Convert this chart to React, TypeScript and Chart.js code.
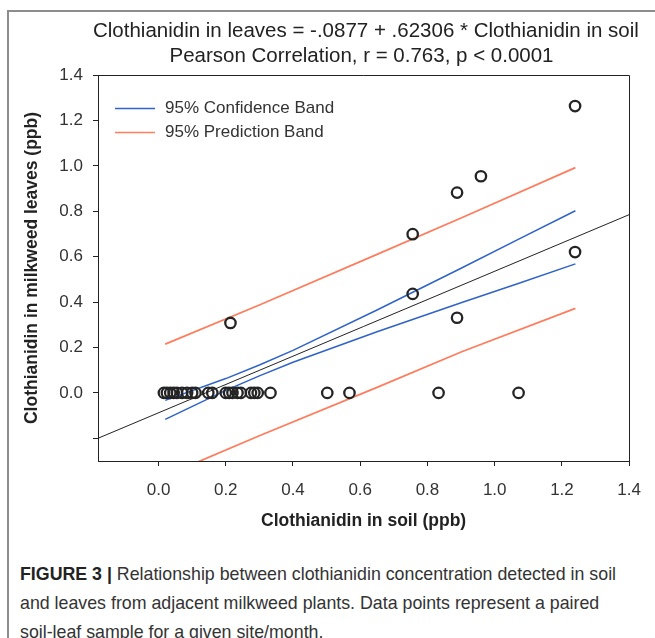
import React, { useEffect, useRef } from "react";
import { Chart, registerables } from "chart.js";

Chart.register(...registerables);

// ---- data ----
const soilPpb = [
  0.016, 0.025, 0.035, 0.045, 0.055, 0.07, 0.085, 0.1, 0.11, 0.148, 0.16,
  0.2, 0.21, 0.22, 0.235, 0.245, 0.275, 0.285, 0.295, 0.333,
  0.502, 0.568, 0.833, 1.071,
  0.214, 0.756, 0.756, 0.888, 0.888, 0.959, 1.239, 1.239,
];
const leafPpb = [
  0, 0, 0, 0, 0, 0, 0, 0, 0, 0, 0,
  0, 0, 0, 0, 0, 0, 0, 0, 0,
  0, 0, 0, 0,
  0.308, 0.699, 0.436, 0.882, 0.331, 0.954, 1.263, 0.62,
];

const regressionX = [-0.18, 1.4];
const regressionY = [-0.2, 0.785];

const confX = [0.02, 0.2, 0.3, 0.4, 0.65, 0.9, 1.07, 1.24];
const confUpper = [-0.033, 0.063, 0.123, 0.187, 0.365, 0.549, 0.676, 0.802];
const confLower = [-0.117, 0.011, 0.075, 0.135, 0.269, 0.397, 0.482, 0.568];

const predX = [0.02, 0.3, 0.65, 0.9, 1.24];
const predUpper = [0.215, 0.387, 0.61, 0.77, 0.992];
const predLower = [-0.365, -0.189, 0.024, 0.18, 0.372];

const xTicks = [0, 0.2, 0.4, 0.6, 0.8, 1.0, 1.2, 1.4];
const yTicks = [-0.2, 0, 0.2, 0.4, 0.6, 0.8, 1.0, 1.2, 1.4];

const legendLabels = ["95% Confidence Band", "95% Prediction Band"];
const titleLines = [
  "Clothianidin in leaves = -.0877 + .62306 * Clothianidin in soil",
  "Pearson Correlation, r = 0.763, p < 0.0001",
];
const xTitle = "Clothianidin in soil (ppb)";
const yTitle = "Clothianidin in milkweed leaves (ppb)";

const CONF_COLOR = "#2f63c8";
const PRED_COLOR = "#ff7d5e";
const INK = "#222222";
const FONT = '"Liberation Sans", Arial, Helvetica, sans-serif';

const pairs = (xs: number[], ys: number[]) => xs.map((x, i) => ({ x, y: ys[i] }));

const boxPlugin = {
  id: "boxFrame",
  afterDraw(chart: any) {
    const { ctx, chartArea } = chart;
    ctx.save();
    ctx.strokeStyle = INK;
    ctx.lineWidth = 1;
    ctx.beginPath();
    ctx.moveTo(Math.round(chartArea.left), Math.round(chartArea.top) + 0.5);
    ctx.lineTo(Math.round(chartArea.right) + 0.5, Math.round(chartArea.top) + 0.5);
    ctx.lineTo(Math.round(chartArea.right) + 0.5, Math.round(chartArea.bottom) + 0.5);
    ctx.stroke();
    ctx.restore();
  },
};

const legendPlugin = {
  id: "bandLegend",
  afterDraw(chart: any) {
    const { ctx, chartArea } = chart;
    const colors = [CONF_COLOR, PRED_COLOR];
    ctx.save();
    ctx.font = `17px ${FONT}`;
    ctx.textBaseline = "middle";
    ctx.textAlign = "left";
    legendLabels.forEach((label, i) => {
      const y = Math.round(chartArea.top + 33 + i * 23.5) + 0.5;
      ctx.strokeStyle = colors[i];
      ctx.lineWidth = 1.6;
      ctx.beginPath();
      ctx.moveTo(chartArea.left + 17, y);
      ctx.lineTo(chartArea.left + 57, y);
      ctx.stroke();
      ctx.fillStyle = "#333";
      ctx.fillText(label, chartArea.left + 67, y);
    });
    ctx.restore();
  },
};

export default function App() {
  const canvasRef = useRef<HTMLCanvasElement | null>(null);

  useEffect(() => {
    const canvas = canvasRef.current;
    if (!canvas) return;
    Chart.defaults.font.family = FONT;
    const chart = new Chart(canvas, {
      type: "scatter",
      data: {
        datasets: [
          {
            label: "samples",
            data: pairs(soilPpb, leafPpb),
            showLine: false,
            pointStyle: "circle",
            pointRadius: 5.2,
            pointBorderWidth: 2.3,
            pointBorderColor: "#242424",
            pointBackgroundColor: "rgba(0,0,0,0)",
            clip: false,
          } as any,
          {
            label: "regression",
            data: pairs(regressionX, regressionY),
            showLine: true,
            borderColor: INK,
            borderWidth: 1,
            pointRadius: 0,
          },
          {
            label: "conf upper",
            data: pairs(confX, confUpper),
            showLine: true,
            borderColor: CONF_COLOR,
            borderWidth: 1.5,
            pointRadius: 0,
          },
          {
            label: "conf lower",
            data: pairs(confX, confLower),
            showLine: true,
            borderColor: CONF_COLOR,
            borderWidth: 1.5,
            pointRadius: 0,
          },
          {
            label: "pred upper",
            data: pairs(predX, predUpper),
            showLine: true,
            borderColor: PRED_COLOR,
            borderWidth: 1.8,
            pointRadius: 0,
          },
          {
            label: "pred lower",
            data: pairs(predX, predLower),
            showLine: true,
            borderColor: PRED_COLOR,
            borderWidth: 1.8,
            pointRadius: 0,
            clip: 0,
          } as any,
        ],
      },
      options: {
        responsive: false,
        animation: false,
        events: [],
        layout: { padding: { top: 75, right: 20, left: 0, bottom: 0 } },
        plugins: {
          legend: { display: false },
          tooltip: { enabled: false },
          title: { display: false },
        },
        scales: {
          x: {
            type: "linear",
            min: -0.18,
            max: 1.4,
            afterBuildTicks: (scale: any) => {
              scale.ticks = xTicks.map((v) => ({ value: v }));
            },
            afterFit: (scale: any) => {
              scale.height = 84;
            },
            grid: {
              drawOnChartArea: false,
              drawTicks: true,
              tickLength: 5,
              tickColor: INK,
              tickWidth: 1,
            },
            border: { display: true, color: INK, width: 1 },
            ticks: {
              padding: 14,
              color: "#333",
              font: { size: 17 },
              maxRotation: 0,
              autoSkip: false,
              callback: (v: any) => Number(v).toFixed(1),
            },
            title: {
              display: true,
              text: xTitle,
              color: "#222",
              font: { size: 17.5, weight: "bold" },
              padding: { top: 0, bottom: 13 },
            },
          },
          y: {
            type: "linear",
            min: -0.3,
            max: 1.4,
            afterBuildTicks: (scale: any) => {
              scale.ticks = yTicks.map((v) => ({ value: v }));
            },
            afterFit: (scale: any) => {
              scale.width = 98;
            },
            grid: {
              drawOnChartArea: false,
              drawTicks: true,
              tickLength: 5,
              tickColor: INK,
              tickWidth: 1,
            },
            border: { display: true, color: INK, width: 1 },
            ticks: {
              padding: 10,
              color: "#333",
              font: { size: 17 },
              autoSkip: false,
              callback: (v: any) => (Number(v) < -0.01 ? "" : Number(v).toFixed(1)),
            },
            title: {
              display: true,
              text: yTitle,
              color: "#222",
              font: { size: 17.5, weight: "bold" },
              padding: { top: 22, bottom: 0 },
            },
          },
        },
      } as any,
      plugins: [boxPlugin, legendPlugin],
    });
    return () => chart.destroy();
  }, []);

  return (
    <div
      style={{
        position: "absolute",
        left: 0,
        top: 0,
        width: 655,
        height: 638,
        background: "#fff",
        overflow: "hidden",
        fontFamily: FONT,
      }}
    >
      <div
        style={{
          position: "absolute",
          left: 7,
          top: 10,
          width: 648,
          height: 0,
          borderTop: "2px solid #8d8d8d",
        }}
      />
      <div
        style={{
          position: "absolute",
          left: 7,
          top: 10,
          width: 0,
          height: 628,
          borderLeft: "2px solid #8d8d8d",
        }}
      />
      <div style={{ position: "absolute", left: 0, top: 0, width: 655, height: 545 }}>
        <canvas ref={canvasRef} width={655} height={545} />
      </div>
      <div
        style={{
          position: "absolute",
          left: 93,
          width: 537,
          top: 17,
          textAlign: "center",
          fontSize: 20.5,
          lineHeight: "25px",
          color: "#222",
          whiteSpace: "nowrap",
        }}
      >
        {titleLines.map((t, i) => (
          <div key={i}>{t}</div>
        ))}
      </div>
      <div
        style={{
          position: "absolute",
          left: 20,
          top: 560,
          fontSize: 17.8,
          lineHeight: "29px",
          color: "#333",
          whiteSpace: "nowrap",
        }}
      >
        <div>
          <b style={{ color: "#222" }}>FIGURE 3 |</b> Relationship between clothianidin concentration detected in soil
        </div>
        <div>and leaves from adjacent milkweed plants. Data points represent a paired</div>
        <div>soil-leaf sample for a given site/month.</div>
      </div>
    </div>
  );
}
